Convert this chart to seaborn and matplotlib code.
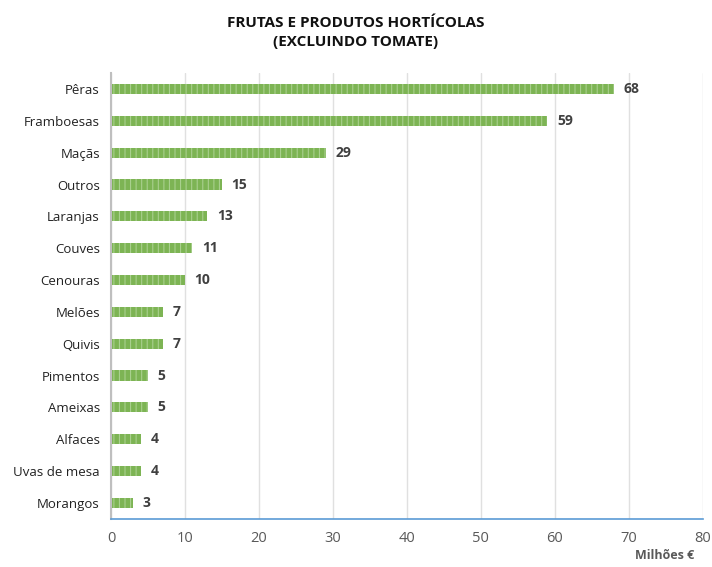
import matplotlib
matplotlib.use("Agg")
import matplotlib.pyplot as plt
import pandas as pd
import seaborn as sns

# Data
categories = ["Pêras", "Framboesas", "Maçãs", "Outros", "Laranjas", "Couves",
              "Cenouras", "Melões", "Quivis", "Pimentos", "Ameixas", "Alfaces",
              "Uvas de mesa", "Morangos"]
values = [68, 59, 29, 15, 13, 11, 10, 7, 7, 5, 5, 4, 4, 3]
x_ticks = [0, 10, 20, 30, 40, 50, 60, 70, 80]

df = pd.DataFrame({"produto": categories, "valor": values})

sns.set_theme(style="white")
plt.rcParams["font.family"] = ["Open Sans", "DejaVu Sans"]
plt.rcParams["hatch.linewidth"] = 0.8

fig = plt.figure(figsize=(7.12, 5.67), dpi=100)
ax = fig.add_axes([0.156, 0.085, 0.831, 0.786])

sns.barplot(data=df, y="produto", x="valor", orient="h", color="#7db454",
            width=0.32, saturation=1, ax=ax)
for p in ax.patches:
    p.set_hatch("|||")
    p.set_edgecolor("#a9d08e")
    p.set_linewidth(0)

# value labels
for i, v in enumerate(values):
    ax.text(v + 1.3, i, str(v), va="center", ha="left", fontsize=10,
            fontweight="bold", color="#404040")

ax.set_xlim(0, 80)
ax.set_xticks(x_ticks)
ax.set_xticklabels([str(t) for t in x_ticks], color="#595959", fontsize=10.5)
ax.tick_params(axis="y", length=0, labelsize=9.5, labelcolor="#222222", pad=8)
ax.tick_params(axis="x", direction="in", length=4, width=1, color="#5b9bd5", pad=9)
ax.xaxis.grid(True, color="#e0e0e0", linewidth=1)
ax.set_axisbelow(True)
ax.set_ylabel("")
ax.set_xlabel("")

for s in ["top", "right"]:
    ax.spines[s].set_visible(False)
ax.spines["bottom"].set_color("#5b9bd5")
ax.spines["bottom"].set_linewidth(1.2)
ax.spines["left"].set_color("#bfbfbf")
ax.spines["left"].set_linewidth(1.5)

fig.text(0.5, 0.943, "FRUTAS E PRODUTOS HORTÍCOLAS\n(EXCLUINDO TOMATE)",
         ha="center", va="center", fontsize=11, fontweight="bold",
         color="#111111", linespacing=1.5)
fig.text(0.975, 0.008, "Milhões €", ha="right", va="bottom", fontsize=9,
         fontweight="bold", color="#595959")

fig.savefig("out.png", dpi=100)
